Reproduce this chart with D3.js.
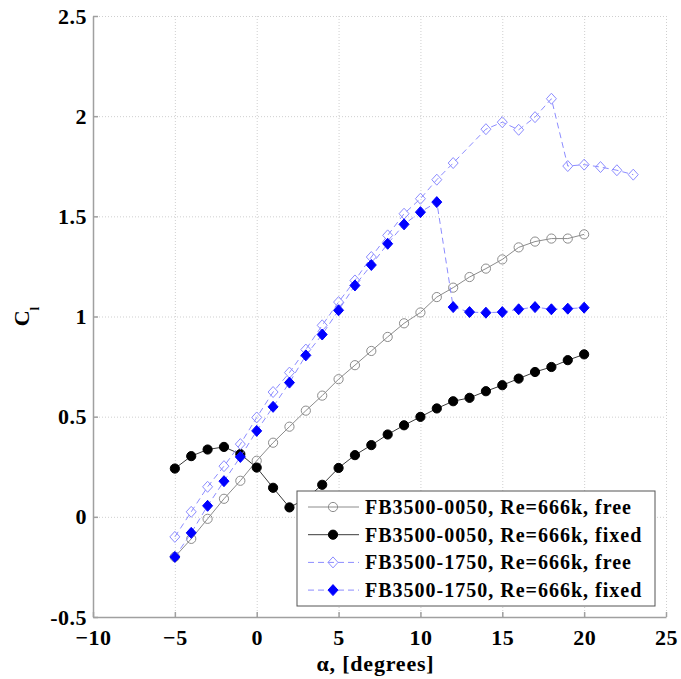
<!DOCTYPE html>
<head>
    <meta charset="utf-8" />
    <title>Cl vs alpha</title>
</head>
<style>
    body {
        margin: 0;
        background: #fff;
    }

    svg text {
        font-weight: bold;
        fill: #000;
    }

    .axis path,
    .axis line {
        fill: none;
        stroke: #a0a0a0;
        stroke-width: 1.5px;
    }

    .grid line {
        stroke: #cfcfcf;
        stroke-width: 1px;
        stroke-dasharray: 1, 2;
    }

    .grid path {
        display: none;
    }
</style>
<body>
    <svg id="chart" width="681" height="679"></svg>

    <script src="https://d3js.org/d3.v7.min.js"></script>
    <script>
        // data
        var alpha0050 = [-5, -4, -3, -2, -1, 0, 1, 2, 3, 4, 5, 6, 7, 8, 9, 10, 11, 12, 13, 14, 15, 16, 17, 18, 19, 20];
        var free0050 = [-0.20, -0.11, -0.01, 0.09, 0.18, 0.28, 0.37, 0.45, 0.53, 0.605, 0.687, 0.757, 0.828, 0.898, 0.966, 1.02, 1.097, 1.144, 1.197, 1.239, 1.285, 1.345, 1.374, 1.389, 1.389, 1.41];
        var fixed0050 = [0.241, 0.303, 0.336, 0.349, 0.313, 0.246, 0.145, 0.047, 0.09, 0.16, 0.244, 0.308, 0.358, 0.411, 0.457, 0.499, 0.541, 0.577, 0.594, 0.627, 0.657, 0.69, 0.723, 0.748, 0.782, 0.811];

        var alphaFree1750 = [-5, -4, -3, -2, -1, 0, 1, 2, 3, 4, 5, 6, 7, 8, 9, 10, 11, 12, 14, 15, 16, 17, 18, 19, 20, 21, 22, 23];
        var free1750 = [-0.10, 0.025, 0.15, 0.253, 0.363, 0.496, 0.623, 0.72, 0.835, 0.956, 1.072, 1.18, 1.297, 1.405, 1.513, 1.588, 1.683, 1.766, 1.935, 1.97, 1.932, 1.995, 2.087, 1.751, 1.758, 1.746, 1.73, 1.708];

        var alphaFixed1750 = [-5, -4, -3, -2, -1, 0, 1, 2, 3, 4, 5, 6, 7, 8, 9, 10, 11, 12, 13, 14, 15, 16, 17, 18, 19, 20];
        var fixed1750 = [-0.20, -0.08, 0.055, 0.178, 0.299, 0.429, 0.549, 0.67, 0.806, 0.91, 1.031, 1.155, 1.257, 1.363, 1.46, 1.521, 1.571, 1.047, 1.022, 1.019, 1.022, 1.036, 1.047, 1.036, 1.039, 1.044];

        var xTicks = [-10, -5, 0, 5, 10, 15, 20, 25];
        var yTicks = [-0.5, 0, 0.5, 1, 1.5, 2, 2.5];

        var legendLabels = [
            "FB3500-0050, Re=666k, free",
            "FB3500-0050, Re=666k, fixed",
            "FB3500-1750, Re=666k, free",
            "FB3500-1750, Re=666k, fixed"
        ];

        var serif = "'Liberation Serif', 'Times New Roman', Times, 'DejaVu Serif', serif";

        var margin = { top: 16, right: 15, bottom: 62, left: 93 };
        var width = 681 - margin.left - margin.right,
            height = 679 - margin.top - margin.bottom;

        var svg = d3.select("#chart")
            .append("g")
            .attr("transform", "translate(" + margin.left + "," + margin.top + ")");

        var x = d3.scaleLinear().domain([-10, 25]).range([0, width]);
        var y = d3.scaleLinear().domain([-0.5, 2.5]).range([height, 0]);

        // grid
        svg.append("g")
            .attr("class", "grid")
            .attr("transform", "translate(0," + height + ")")
            .call(d3.axisBottom(x).tickValues(xTicks.slice(1)).tickSize(-height).tickFormat(""));
        svg.append("g")
            .attr("class", "grid")
            .call(d3.axisLeft(y).tickValues(yTicks.slice(1)).tickSize(-width).tickFormat(""));

        // axes, ticks point inward
        var xAxis = svg.append("g")
            .attr("class", "axis")
            .attr("transform", "translate(0," + height + ")")
            .call(d3.axisBottom(x).tickValues(xTicks).tickSizeInner(-5).tickSizeOuter(0).tickPadding(12));
        xAxis.attr("font-family", serif).attr("font-size", 22);
        xAxis.selectAll("text").attr("dy", "0.71em").attr("letter-spacing", "0.5px");

        var yAxis = svg.append("g")
            .attr("class", "axis")
            .call(d3.axisLeft(y).tickValues(yTicks).tickSizeInner(-5).tickSizeOuter(0).tickPadding(6)
                .tickFormat(function(d) { return String(d); }));
        yAxis.attr("font-family", serif).attr("font-size", 22);
        yAxis.selectAll("text").attr("letter-spacing", "0.5px");

        // axis labels
        svg.append("text")
            .attr("x", x(7.5) - 4)
            .attr("y", height + 54)
            .attr("text-anchor", "middle")
            .attr("font-family", serif)
            .attr("font-size", "22px")
            .attr("letter-spacing", "0.8px")
            .text("\u03b1, [degrees]");

        var ylab = svg.append("text")
            .attr("transform", "translate(-64," + (height / 2) + ") rotate(-90)")
            .attr("text-anchor", "middle")
            .attr("font-family", serif)
            .attr("font-size", "22px");
        ylab.append("tspan").text("C");
        ylab.append("tspan").attr("font-size", "13px").attr("dy", "10").text("l");

        // series
        var series = [
            { xs: alpha0050, ys: free0050, line: "#8c8c8c", dash: null, shape: "circle", fill: "none", mark: "#8c8c8c" },
            { xs: alpha0050, ys: fixed0050, line: "#3a3a3a", dash: null, shape: "circle", fill: "#000", mark: "#000" },
            { xs: alphaFree1750, ys: free1750, line: "#8c8cff", dash: "6,4", shape: "diamond", fill: "none", mark: "#8c8cff" },
            { xs: alphaFixed1750, ys: fixed1750, line: "#8c8cff", dash: "6,4", shape: "diamond", fill: "#0000ff", mark: "#0000ff" }
        ];

        var line = d3.line()
            .x(function(d) { return x(d[0]); })
            .y(function(d) { return y(d[1]); });

        function drawMarker(sel, s) {
            if (s.shape == "circle") {
                sel.append("circle").attr("r", 4.6);
            } else {
                sel.append("path").attr("d", "M0,-5.5L5,0L0,5.5L-5,0Z");
            }
            sel.selectAll("circle,path")
                .attr("fill", s.fill)
                .attr("stroke", s.mark)
                .attr("stroke-width", 1);
        }

        series.forEach(function(s) {
            var pts = s.xs.map(function(a, i) { return [a, s.ys[i]]; });
            svg.append("path")
                .datum(pts)
                .attr("fill", "none")
                .attr("stroke", s.line)
                .attr("stroke-width", 1)
                .attr("stroke-dasharray", s.dash)
                .attr("d", line);

            svg.selectAll(null)
                .data(pts)
                .enter().append("g")
                .attr("transform", function(d) { return "translate(" + x(d[0]) + "," + y(d[1]) + ")"; })
                .each(function() { drawMarker(d3.select(this), s); });
        });

        // legend
        var legend = svg.append("g")
            .attr("transform", "translate(" + (297 - margin.left) + "," + (491 - margin.top) + ")");

        legend.append("rect")
            .attr("width", 358)
            .attr("height", 115)
            .attr("fill", "#fff")
            .attr("stroke", "#555")
            .attr("stroke-width", 1);

        legendLabels.forEach(function(lab, i) {
            var s = series[i];
            var cy = 16 + i * 27.7;
            legend.append("line")
                .attr("x1", 11).attr("x2", 62)
                .attr("y1", cy).attr("y2", cy)
                .attr("stroke", s.line)
                .attr("stroke-width", 1)
                .attr("stroke-dasharray", s.dash);
            var m = legend.append("g").attr("transform", "translate(36," + cy + ")");
            drawMarker(m, s);
            legend.append("text")
                .attr("x", 68)
                .attr("y", cy + 7)
                .attr("font-family", serif)
                .attr("font-size", "20px")
                .attr("letter-spacing", "1px")
                .text(lab);
        });
    </script>
</body>
